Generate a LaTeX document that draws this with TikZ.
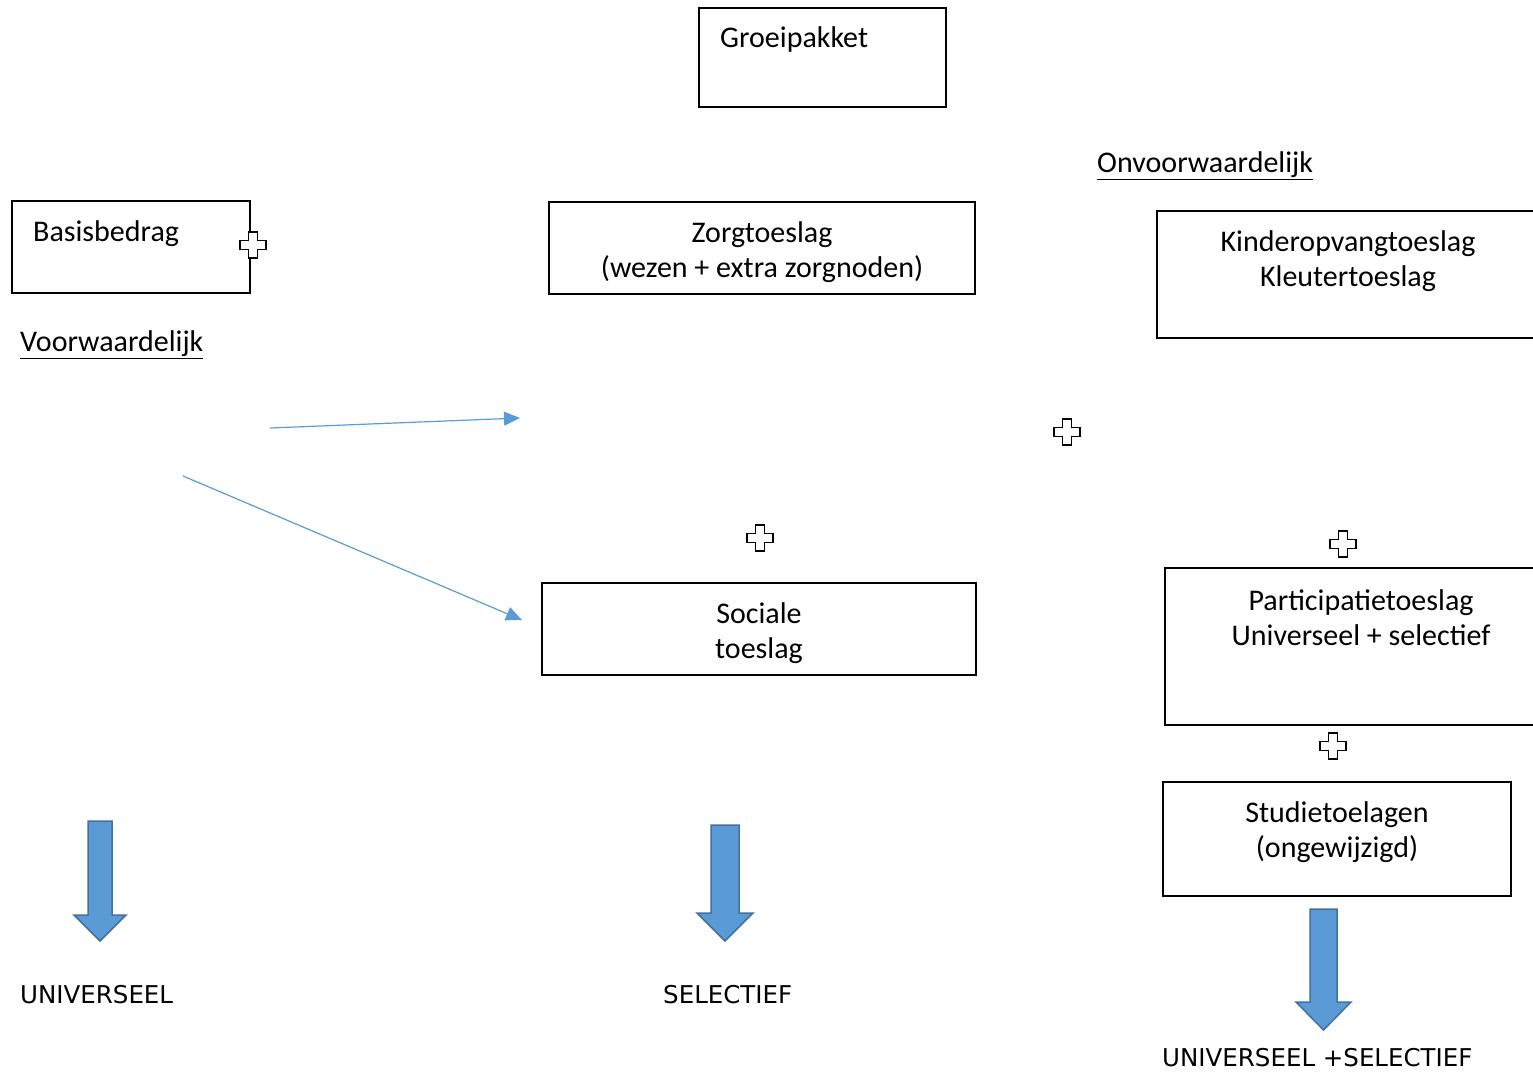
\documentclass[tikz,border=0pt]{standalone}
\usepackage{fontspec}
\usetikzlibrary{arrows.meta}
\setmainfont{Carlito}
\newfontfamily\labfont{DejaVu Sans}
\definecolor{arrblue}{HTML}{5B9BD5}
\definecolor{arredge}{HTML}{41719C}
\begin{document}
\begin{tikzpicture}[x=1pt,y=-1pt,
  box/.style={draw=black, line width=1.3pt, fill=white},
  txt/.style={font=\fontsize{30}{35}\selectfont, align=center, inner sep=0pt},
  lab/.style={font=\labfont\fontsize{24.5}{28}\selectfont, inner sep=0pt, anchor=west},
  thin/.style={draw=arrblue, line width=1.2pt, -{Triangle[length=16pt,width=14pt]}},
  plussign/.pic={\draw[line width=1.1pt, fill=white] (-4.5,-13)--(4.5,-13)--(4.5,-4.5)--(13,-4.5)--(13,4.5)--(4.5,4.5)--(4.5,13)--(-4.5,13)--(-4.5,4.5)--(-13,4.5)--(-13,-4.5)--(-4.5,-4.5)--cycle;},
  bigarrow/.style={fill=arrblue, draw=arredge, line width=1.5pt, line join=miter}
]
\useasboundingbox (0,0) rectangle (1533,1073);
% boxes
\draw[box] (699,8) rectangle (946,107);
\node[txt, anchor=west] (groei) at (720,40) {Groeipakket};
\draw[box] (12,201) rectangle (250,293);
\node[txt, anchor=west] (basis) at (33,234) {Basisbedrag};
\draw[box] (549,202) rectangle (975,294);
\node[txt] (zorg) at (762,252) {Zorgtoeslag\\(wezen + extra zorgnoden)};
\draw[box] (1157,211) rectangle (1545,338);
\node[txt] (kind) at (1348,261) {Kinderopvangtoeslag\\Kleutertoeslag};
\draw[box] (542,583) rectangle (976,675);
\node[txt] (soc) at (759,633) {Sociale\\toeslag};
\draw[box] (1165,568) rectangle (1545,725);
\node[txt] (part) at (1361,618) {Participatietoeslag\\Universeel + selectief};
\draw[box] (1163,782) rectangle (1511,896);
\node[txt] (stud) at (1337,832) {Studietoelagen\\(ongewijzigd)};
% underlined labels
\node[txt, anchor=west] (voorw) at (20,345) {\underline{Voorwaardelijk}};
\node[txt, anchor=west] (onvoorw) at (1097,166) {\underline{Onvoorwaardelijk}};
% plus signs
\pic at (253,245) {plussign};
\pic at (1067,432) {plussign};
\pic at (760,538) {plussign};
\pic at (1343,544) {plussign};
\pic at (1333,746) {plussign};
% thin arrows
\coordinate (a1s) at (270,428);
\coordinate (a1e) at (520,418);
\coordinate (a2s) at (183,476);
\coordinate (a2e) at (522,620);
\draw[thin] (a1s) -- (a1e);
\draw[thin] (a2s) -- (a2e);
% block arrows
\draw[bigarrow] (88,821)--(112,821)--(112,915)--(126,915)--(100,941)--(74,915)--(88,915)--cycle;
\draw[bigarrow] (711,825)--(739,825)--(739,913)--(753,913)--(725,941)--(697,913)--(711,913)--cycle;
\draw[bigarrow] (1310,909)--(1337,909)--(1337,1002)--(1351,1002)--(1323.5,1030)--(1296,1002)--(1310,1002)--cycle;
% bottom labels
\node[lab] (uni) at (20,995) {UNIVERSEEL};
\node[lab] (sel) at (663,995) {SELECTIEF};
\node[lab] (unisel) at (1162,1058) {UNIVERSEEL +SELECTIEF};
\end{tikzpicture}
\end{document}
